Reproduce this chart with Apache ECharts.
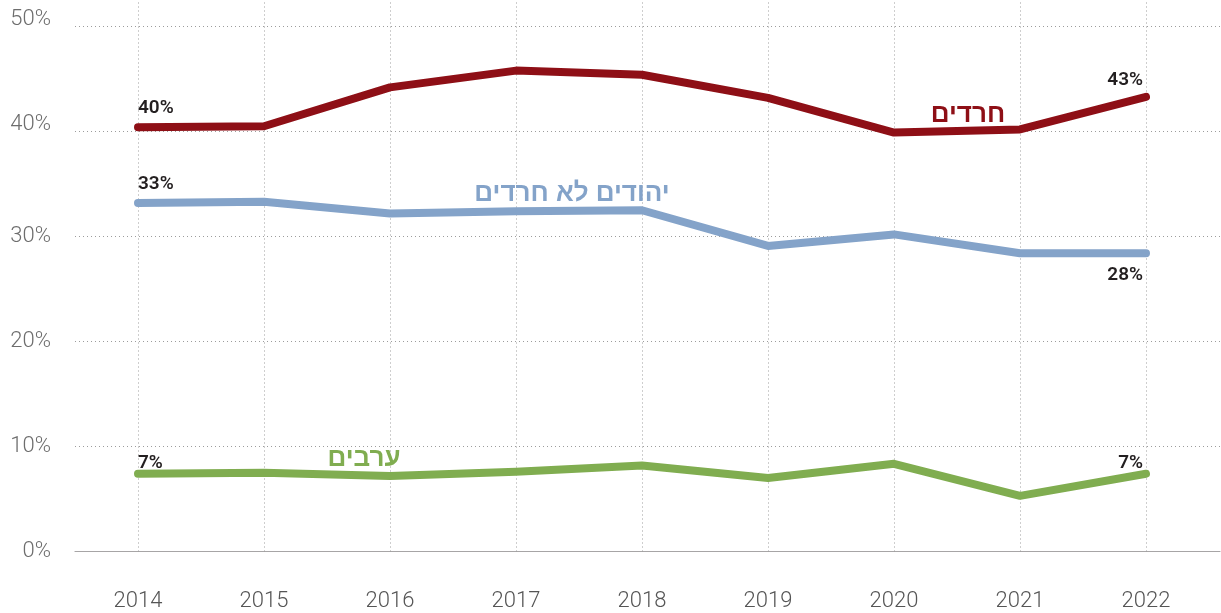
<!DOCTYPE html>
<html>
<head>
<meta charset="utf-8">
<script src="https://cdn.jsdelivr.net/npm/echarts@6/dist/echarts.min.js"></script>
<style>
  html, body { margin: 0; padding: 0; background: #fff; }
  #chart { width: 1221px; height: 613px; }
</style>
</head>
<body>
<div id="chart"></div>
<script>
  // years on x axis
  const years = ['2014', '2015', '2016', '2017', '2018', '2019', '2020', '2021', '2022']
  // share in %
  const haredim = [40.4, 40.5, 44.2, 45.8, 45.4, 43.2, 39.9, 40.2, 43.3]
  const nonHaredim = [33.2, 33.3, 32.2, 32.4, 32.5, 29.1, 30.2, 28.4, 28.4]
  const arabs = [7.4, 7.5, 7.2, 7.6, 8.2, 7.0, 8.35, 5.3, 7.4]
  const yTicks = [0, 10, 20, 30, 40, 50]

  const RED = '#8e0f16'
  const BLUE = '#84a3c9'
  const GREEN = '#80ad50'
  const TXT = '#231f20'
  const DOTS = {color: '#9c9c9c', type: [1, 3], width: 1}

  const valLabel = (pos, align, dist) => ({
    show: true,
    position: pos,
    align: align,
    distance: dist,
    offset: [align === 'right' ? -3 : 0, 0],
    color: TXT,
    fontFamily: 'Roboto',
    fontWeight: 600,
    fontSize: 19,
    formatter: p => Math.round(p.value) + '%'
  })

  const nameLabel = (text, color, offset) => ({
    show: true,
    position: 'inside',
    offset: offset,
    color: color,
    fontFamily: 'Liberation Sans',
    fontWeight: 'bold',
    fontSize: 26,
    formatter: () => text
  })

  // build data items: value label on first/last point, series name on one point
  let buildData = (vals, firstLbl, lastLbl, nameIdx, nameLbl) => {
    return vals.map((v, i) => {
      let item = {value: v}
      if (i == 0) item.label = firstLbl
      else if (i == vals.length - 1) item.label = lastLbl
      else if (i == nameIdx) item.label = nameLbl
      return item
    })
  }

  let lineSeries = (name, color, data) => ({
    name: name,
    type: 'line',
    xAxisIndex: 1,
    yAxisIndex: 1,
    data: data,
    symbol: 'circle',
    symbolSize: 1,
    itemStyle: {color: color},
    lineStyle: {color: color, width: 8, cap: 'round', join: 'round'},
    label: {show: false},
    emphasis: {disabled: true},
    z: 3
  })

  let chart = echarts.init(document.getElementById('chart'))
  chart.setOption({
    animation: false,
    grid: [
      {left: 75, right: 1, top: 26.5, bottom: 61.5},
      {left: 75, right: 12, top: 26.5, bottom: 61.5}
    ],
    xAxis: [
      {
        gridIndex: 0,
        type: 'value',
        min: 0,
        max: 1,
        axisLine: {show: true, onZero: false, lineStyle: {color: '#a7a5a6', width: 1.2}},
        axisTick: {show: false},
        axisLabel: {show: false},
        splitLine: {show: false}
      },
      {
        gridIndex: 1,
        type: 'category',
        data: years,
        boundaryGap: true,
        offset: 15,
        axisLine: {show: false},
        axisTick: {
          show: true,
          alignWithLabel: true,
          inside: true,
          length: 558,
          lineStyle: DOTS
        },
        axisLabel: {
          color: '#555',
          fontFamily: 'Roboto',
          fontWeight: 300,
          fontSize: 22,
          margin: 24
        },
        splitLine: {show: false}
      }
    ],
    yAxis: [
      {
        gridIndex: 0,
        type: 'value',
        min: yTicks[0],
        max: yTicks[yTicks.length - 1],
        interval: 10,
        axisLine: {show: false},
        axisTick: {show: false},
        axisLabel: {
          margin: 24,
          color: '#6d6d6d',
          fontFamily: 'Roboto',
          fontWeight: 300,
          fontSize: 22,
          formatter: v => v >= 40 ? '{hi|' + v + '%}' : v + '%',
          rich: {
            hi: {
              color: '#6d6d6d',
              fontFamily: 'Roboto',
              fontWeight: 300,
              fontSize: 22,
              padding: [0, 0, 14, 0]
            }
          }
        },
        splitLine: {show: true, lineStyle: DOTS}
      },
      {
        gridIndex: 1,
        type: 'value',
        min: yTicks[0],
        max: yTicks[yTicks.length - 1],
        show: false
      }
    ],
    series: [
      lineSeries('חרדים', RED, buildData(haredim,
        valLabel('top', 'left', 9), valLabel('top', 'right', 7),
        6, nameLabel('חרדים', RED, [74, -18]))),
      lineSeries('יהודים לא חרדים', BLUE, buildData(nonHaredim,
        valLabel('top', 'left', 9), valLabel('bottom', 'right', 12),
        3, nameLabel('יהודים לא חרדים', BLUE, [56, -17]))),
      lineSeries('ערבים', GREEN, buildData(arabs,
        valLabel('top', 'left', 1), valLabel('top', 'right', 1),
        2, nameLabel('ערבים', GREEN, [-26, -17])))
    ]
  })
</script>
</body>
</html>
